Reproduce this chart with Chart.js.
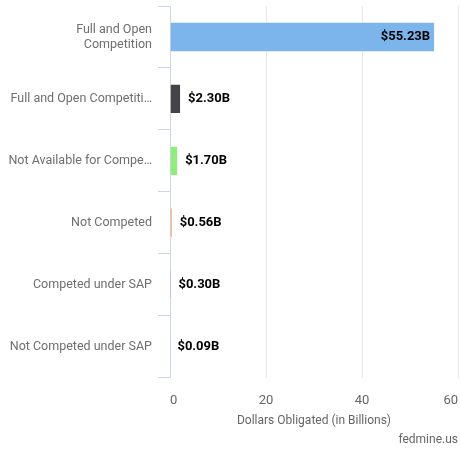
<!DOCTYPE html>
<html lang="en">
<head>
  <meta charset="UTF-8">
  <title>Dollars Obligated by Extent Competed</title>
  <script src="https://cdn.jsdelivr.net/npm/chart.js"></script>
  <style>
    html, body { margin: 0; padding: 0; background: #fff; }
    #wrap { width: 460px; height: 449px; position: relative; }
  </style>
</head>
<body>
  <div id="wrap"><canvas id="chart"></canvas></div>

  <script>
    // categories as shown on the axis (long names are cut like the original)
    const categories = [
      ['Full and Open', 'Competition'],
      'Full and Open Competiti\u2026',
      'Not Available for Compe\u2026',
      'Not Competed',
      'Competed under SAP',
      'Not Competed under SAP'
    ];
    // dollars obligated, billions
    const values = [55.23, 2.30, 1.70, 0.56, 0.30, 0.09];
    const barColors = ['#7cb5ec', '#434348', '#90ed7d', '#f7a35c', '#8085e9', '#f15c80'];
    const xMax = 60;
    const xStep = 20;

    Chart.defaults.font.family = 'Roboto, sans-serif';

    // value labels at the bar ends, inside when they would not fit
    const valueLabels = {
      id: 'valueLabels',
      afterDatasetsDraw(chart) {
        const ctx = chart.ctx;
        const meta = chart.getDatasetMeta(0);
        ctx.save();
        ctx.font = 'bold 13px Roboto, sans-serif';
        ctx.fillStyle = '#000';
        ctx.textBaseline = 'middle';
        meta.data.forEach((bar, i) => {
          const txt = '$' + values[i].toFixed(2) + 'B';
          const w = ctx.measureText(txt).width;
          if (bar.x + 7 + w > chart.chartArea.right) {
            ctx.textAlign = 'right';
            ctx.fillText(txt, bar.x - 5, bar.y);
          } else {
            ctx.textAlign = 'left';
            ctx.fillText(txt, bar.x + 7, bar.y);
          }
        });
        ctx.restore();
      }
    };

    new Chart(document.getElementById('chart'), {
      type: 'bar',
      data: {
        labels: categories,
        datasets: [{
          data: values,
          backgroundColor: barColors,
          borderColor: '#ffffff',
          borderWidth: 1,
          barPercentage: 0.5,
          categoryPercentage: 0.98
        }]
      },
      options: {
        indexAxis: 'y',
        responsive: true,
        maintainAspectRatio: false,
        animation: false,
        layout: { padding: { top: 6, right: 2, left: 0, bottom: 0 } },
        plugins: {
          legend: { display: false },
          tooltip: { enabled: false },
          title: {
            display: true,
            text: 'fedmine.us',
            position: 'bottom',
            align: 'end',
            color: '#666',
            font: { size: 12, weight: 'normal' },
            padding: { top: 0, bottom: 2 }
          }
        },
        scales: {
          x: {
            min: 0,
            max: xMax,
            ticks: { stepSize: xStep, color: '#666', font: { size: 13 }, align: 'inner', padding: 15 },
            grid: { color: '#e6e6e6', drawTicks: false },
            border: { display: false },
            title: {
              display: true,
              text: 'Dollars Obligated (in Billions)',
              color: '#666',
              font: { size: 12 },
              padding: { top: 4, bottom: 4 }
            },
            afterFit(s) {
              s.height = 55;
              s.paddingLeft = 0;
              s.paddingRight = 0;
            }
          },
          y: {
            ticks: { color: '#6e6e6e', font: { size: 12.5 }, padding: 6 },
            grid: { drawOnChartArea: false, tickLength: 12, color: '#ccd6eb' },
            border: { color: '#ccd6eb' },
            afterFit(s) {
              s.width = 170;
              s.paddingTop = 0;
              s.paddingBottom = 0;
            }
          }
        }
      },
      plugins: [valueLabels]
    });
  </script>
</body>
</html>
